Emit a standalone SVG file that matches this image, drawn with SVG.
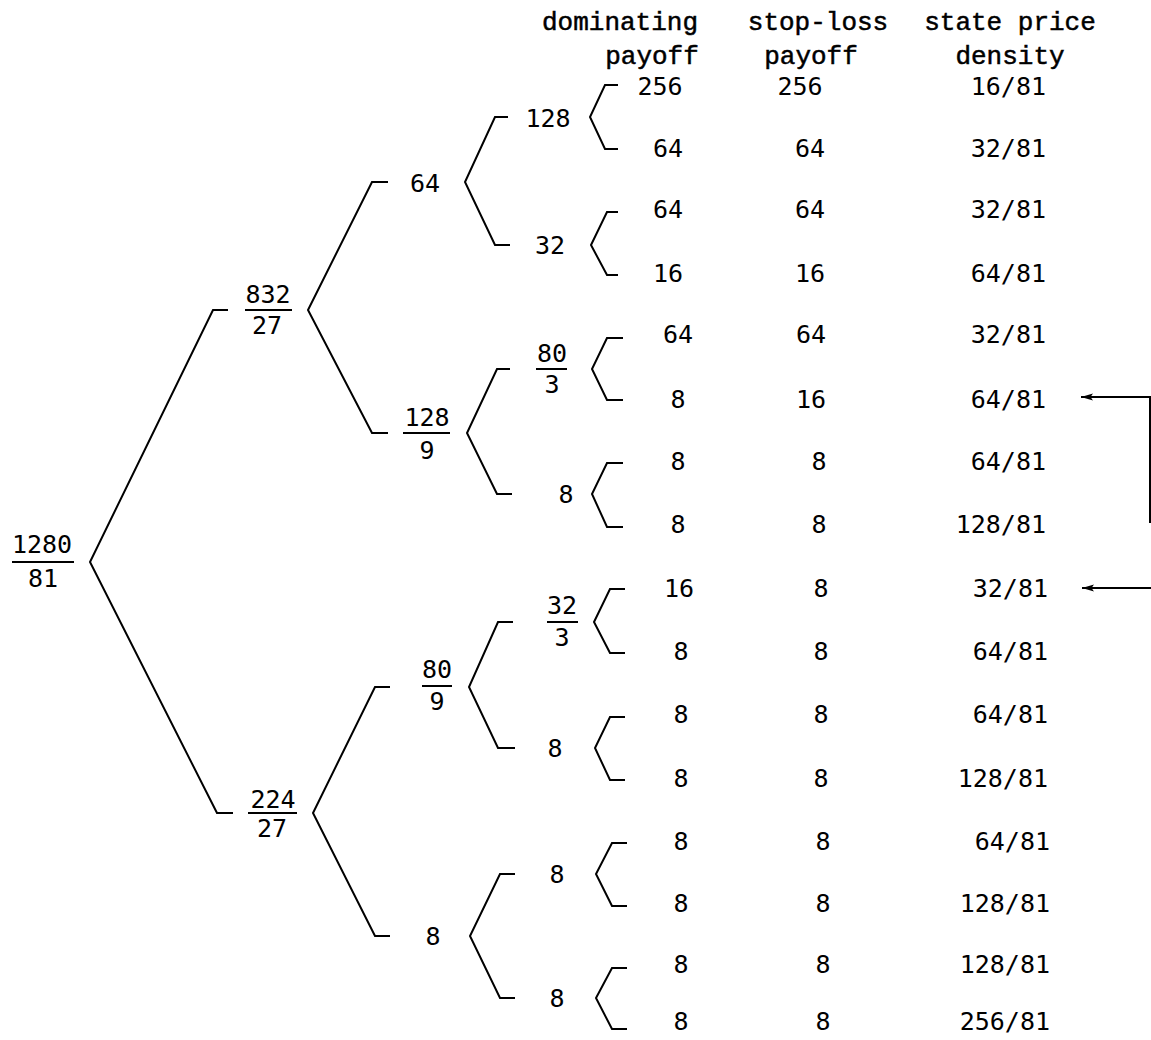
<svg xmlns="http://www.w3.org/2000/svg" width="1151" height="1040" viewBox="0 0 1151 1040">
<defs>
<style>
.n{font-family:"DejaVu Sans Mono","Liberation Mono",monospace;font-size:25px;fill:#000;text-anchor:middle}
.h{font-family:"Liberation Mono","DejaVu Sans Mono",monospace;font-size:26px;fill:#000;stroke:#000;stroke-width:0.5;text-anchor:middle}
.c{fill:none;stroke:#000;stroke-width:2;stroke-linejoin:miter}
.bar{stroke:#000;stroke-width:2}
.a{fill:none;stroke:#000;stroke-width:2}
.e{text-anchor:end}
</style>
<marker id="ah" markerWidth="12" markerHeight="9" refX="12" refY="4.5" orient="auto" markerUnits="userSpaceOnUse" viewBox="0 0 12 9">
<path d="M0,1 L12,4.5 L0,8 L2.5,4.5 Z" fill="#000"/>
</marker>
</defs>
<rect width="1151" height="1040" fill="#fff"/>

<g id="headers">
<text class="h" x="620" y="30">dominating</text>
<text class="h" x="652" y="64">payoff</text>
<text class="h" x="818" y="30">stop-loss</text>
<text class="h" x="811" y="64">payoff</text>
<text class="h" x="1010" y="30">state price</text>
<text class="h" x="1010" y="64">density</text>
</g>

<g id="connectors">
<path class="c" d="M228,310 H213 L90,562 L217,813 H233"/>
<path class="c" d="M388,182 H372 L308,310 L372,433 H388"/>
<path class="c" d="M390,687 H375 L313,813 L375,936 H390"/>
<path class="c" d="M508,117 H495 L465,182 L495,245 H510"/>
<path class="c" d="M510,369 H497 L467,433 L497,494 H512"/>
<path class="c" d="M513,622 H498 L469,687 L498,748 H515"/>
<path class="c" d="M515,874 H500 L470,936 L500,998 H515"/>
<path class="c" d="M618,85 H605 L590,117 L605,149 H618"/>
<path class="c" d="M618,212 H607 L591,245 L607,275 H618"/>
<path class="c" d="M623,338 H607 L592,369 L607,400 H623"/>
<path class="c" d="M623,463 H607 L592,494 L607,527 H623"/>
<path class="c" d="M625,589 H610 L594,622 L610,653 H625"/>
<path class="c" d="M625,717 H610 L595,748 L610,780 H625"/>
<path class="c" d="M627,843 H612 L596,874 L612,906 H627"/>
<path class="c" d="M627,968 H612 L596,998 L612,1029 H627"/>
<path class="a" d="M1150,523 V397 H1081" marker-end="url(#ah)"/>
<path class="a" d="M1151,588 H1082" marker-end="url(#ah)"/>
</g>

<g id="n-root">
<text class="n" x="42" y="553">1280</text>
<line class="bar" x1="12" y1="562" x2="74" y2="562"/>
<text class="n" x="43" y="587">81</text>
</g>

<g id="n-832-27">
<text class="n" x="268" y="303">832</text>
<line class="bar" x1="245" y1="310" x2="292" y2="310"/>
<text class="n" x="267" y="334">27</text>
</g>
<g id="n-224-27">
<text class="n" x="273" y="808">224</text>
<line class="bar" x1="248" y1="813" x2="297" y2="813"/>
<text class="n" x="272" y="837">27</text>
</g>

<g id="n-64"><text class="n" x="425" y="192">64</text></g>
<g id="n-128-9">
<text class="n" x="427" y="426">128</text>
<line class="bar" x1="403" y1="433" x2="450" y2="433"/>
<text class="n" x="427" y="459">9</text>
</g>
<g id="n-80-9">
<text class="n" x="437" y="678">80</text>
<line class="bar" x1="422" y1="686" x2="452" y2="686"/>
<text class="n" x="437" y="710">9</text>
</g>
<g id="n-8-l2"><text class="n" x="433" y="945">8</text></g>

<g id="n-128"><text class="n" x="548" y="127">128</text></g>
<g id="n-32"><text class="n" x="550" y="254">32</text></g>
<g id="n-80-3">
<text class="n" x="552" y="362">80</text>
<line class="bar" x1="536" y1="369" x2="567" y2="369"/>
<text class="n" x="552" y="393">3</text>
</g>
<g id="n-8-a"><text class="n" x="566" y="503">8</text></g>
<g id="n-32-3">
<text class="n" x="562" y="614">32</text>
<line class="bar" x1="547" y1="622" x2="578" y2="622"/>
<text class="n" x="562" y="646">3</text>
</g>
<g id="n-8-b"><text class="n" x="555" y="757">8</text></g>
<g id="n-8-c"><text class="n" x="557" y="883">8</text></g>
<g id="n-8-d"><text class="n" x="557" y="1007">8</text></g>

<g id="leaves-dominating">
<text class="n" x="660" y="95">256</text>
<text class="n" x="668" y="157">64</text>
<text class="n" x="668" y="218">64</text>
<text class="n" x="668" y="282">16</text>
<text class="n" x="678" y="343">64</text>
<text class="n" x="678" y="408">8</text>
<text class="n" x="678" y="470">8</text>
<text class="n" x="678" y="533">8</text>
<text class="n" x="679" y="597">16</text>
<text class="n" x="681" y="660">8</text>
<text class="n" x="681" y="723">8</text>
<text class="n" x="681" y="787">8</text>
<text class="n" x="681" y="850">8</text>
<text class="n" x="681" y="912">8</text>
<text class="n" x="681" y="973">8</text>
<text class="n" x="681" y="1030">8</text>
</g>

<g id="leaves-stoploss">
<text class="n" x="800" y="95">256</text>
<text class="n" x="810" y="157">64</text>
<text class="n" x="810" y="218">64</text>
<text class="n" x="810" y="282">16</text>
<text class="n" x="811" y="343">64</text>
<text class="n" x="811" y="408">16</text>
<text class="n" x="819" y="470">8</text>
<text class="n" x="819" y="533">8</text>
<text class="n" x="821" y="597">8</text>
<text class="n" x="821" y="660">8</text>
<text class="n" x="821" y="723">8</text>
<text class="n" x="821" y="787">8</text>
<text class="n" x="823" y="850">8</text>
<text class="n" x="823" y="912">8</text>
<text class="n" x="823" y="973">8</text>
<text class="n" x="823" y="1030">8</text>
</g>

<g id="leaves-density">
<text class="n e" x="1046" y="95">16/81</text>
<text class="n e" x="1046" y="157">32/81</text>
<text class="n e" x="1046" y="218">32/81</text>
<text class="n e" x="1046" y="282">64/81</text>
<text class="n e" x="1046" y="343">32/81</text>
<text class="n e" x="1046" y="408">64/81</text>
<text class="n e" x="1046" y="470">64/81</text>
<text class="n e" x="1046" y="533">128/81</text>
<text class="n e" x="1048" y="597">32/81</text>
<text class="n e" x="1048" y="660">64/81</text>
<text class="n e" x="1048" y="723">64/81</text>
<text class="n e" x="1048" y="787">128/81</text>
<text class="n e" x="1050" y="850">64/81</text>
<text class="n e" x="1050" y="912">128/81</text>
<text class="n e" x="1050" y="973">128/81</text>
<text class="n e" x="1050" y="1030">256/81</text>
</g>
</svg>
